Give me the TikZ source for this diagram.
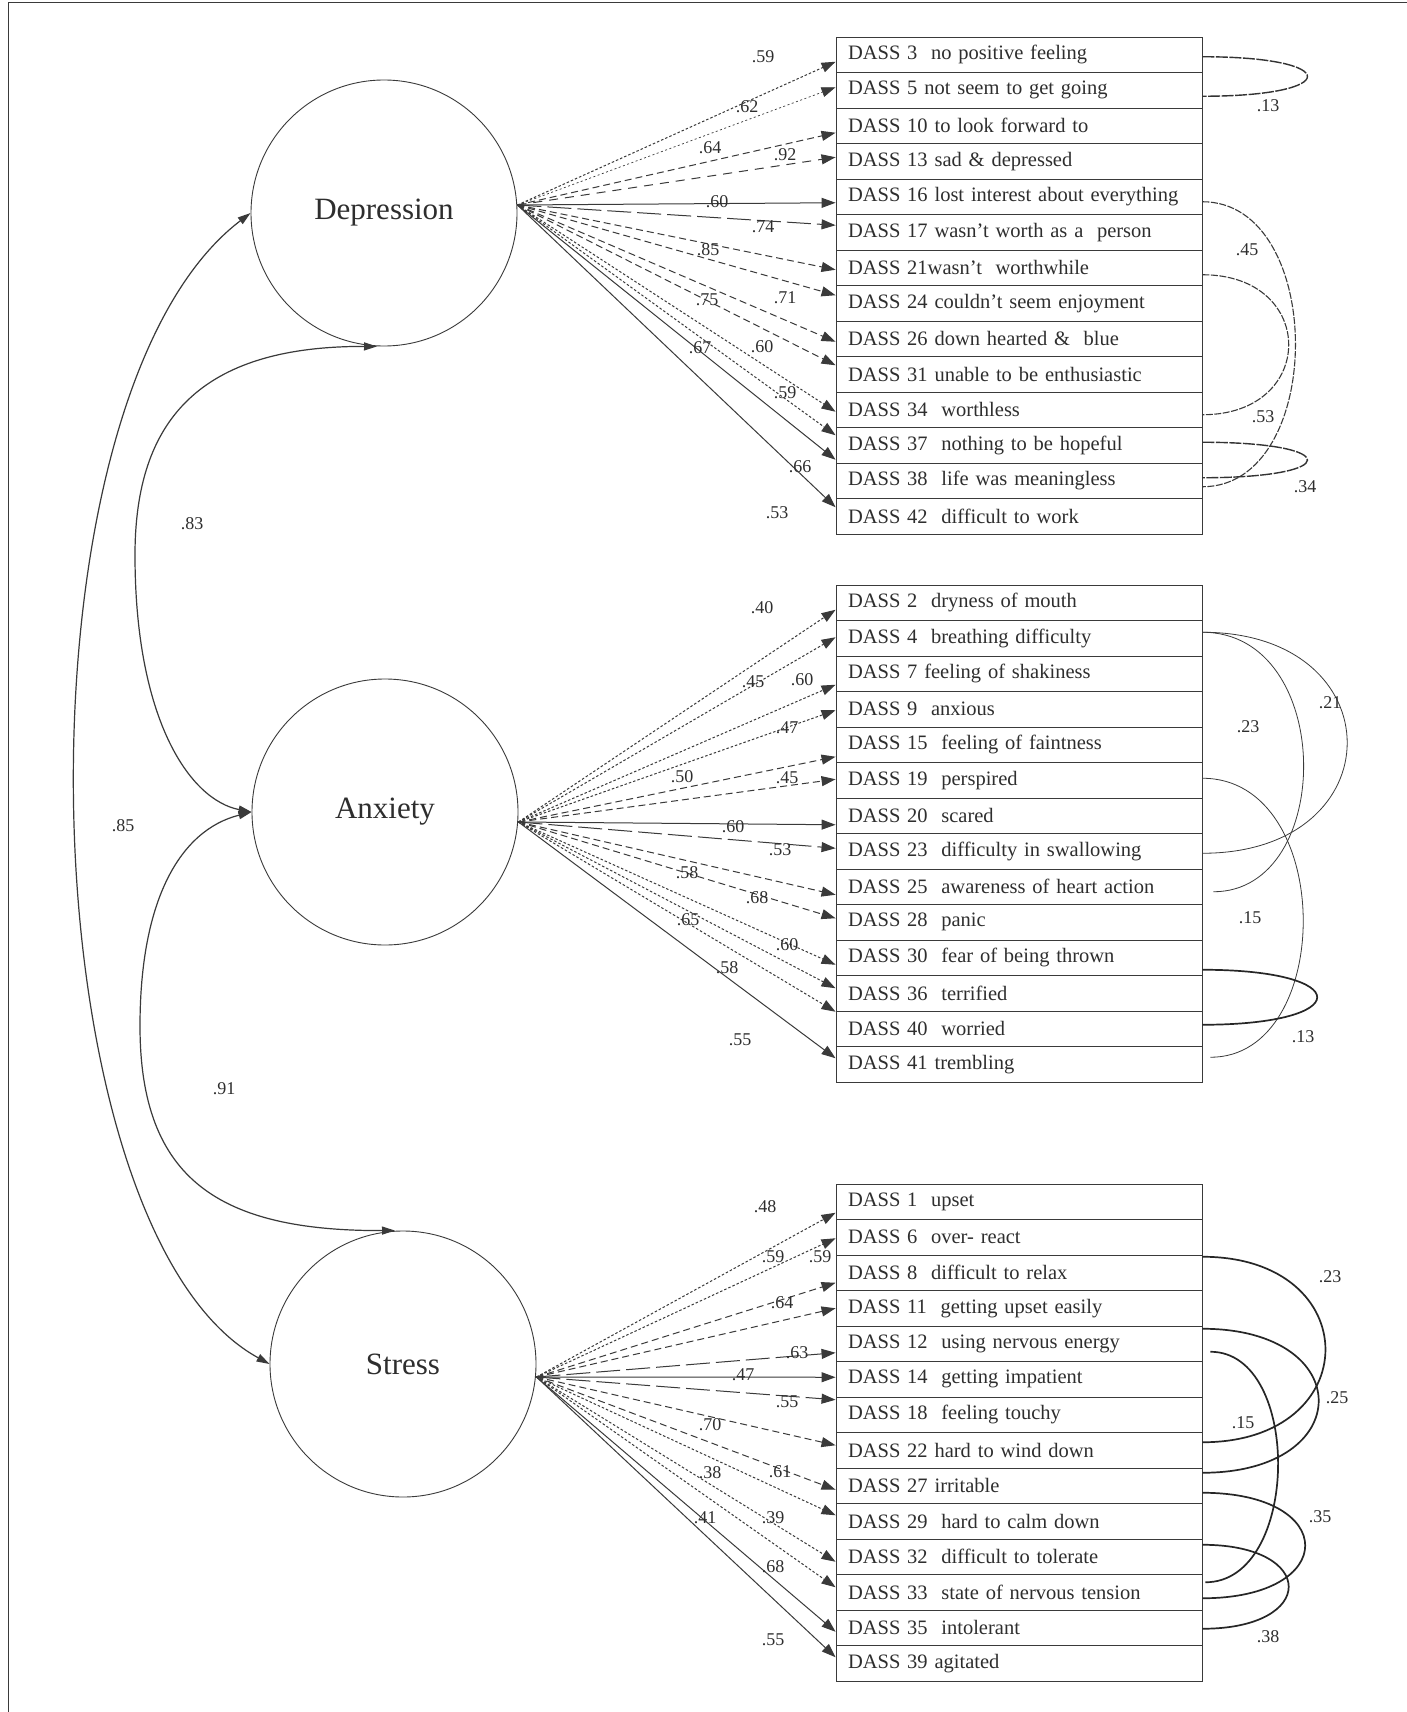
\documentclass[tikz,border=0pt]{standalone}
\usepackage{fontspec}
\setmainfont{Liberation Serif}
\usetikzlibrary{arrows.meta}
\definecolor{ln}{HTML}{3A3A3A}
\definecolor{tx}{HTML}{2E2E2E}
\begin{document}
\begin{tikzpicture}[x=1pt,y=-1pt,
  latent/.style={circle,draw=ln,line width=0.9pt,minimum size=266pt,inner sep=0pt,font=\fontsize{31}{34}\selectfont,text=tx},
  item/.style={draw=ln,line width=0.9pt,minimum height=35.5pt,text width=342pt,inner xsep=12pt,inner ysep=0pt,align=left,font=\fontsize{20.5}{22}\selectfont,text=tx},
  arr/.style={-{Triangle[length=14pt,width=10pt]},draw=ln,line width=1pt},
  dotA/.style={dash pattern=on 2.5pt off 2pt},
  dotB/.style={dash pattern=on 2pt off 2.5pt,line width=0.7pt},
  dashA/.style={dash pattern=on 7pt off 4pt},
  dashB/.style={dash pattern=on 9pt off 7pt},
  longA/.style={dash pattern=on 24pt off 6pt},
  solidA/.style={solid},
  corrL/.style={{Triangle[length=13pt,width=8pt]}-{Triangle[length=13pt,width=8pt]},draw=ln,line width=1.2pt},
  corrD/.style={draw=ln,line width=1.1pt,dash pattern=on 7pt off 1.5pt},
  corrP/.style={draw=black!80,line width=1.4pt,dash pattern=on 12pt off 1.5pt},
  corrA/.style={draw=ln,line width=0.8pt},
  corrS/.style={draw=black!85,line width=1.7pt},
  lab/.style={font=\fontsize{18}{20}\selectfont,text=tx,inner sep=0pt}]
\useasboundingbox (0,0) rectangle (1407,1712);
\fill[white] (0,0) rectangle (1407,1712);
\draw[ln,line width=1pt] (8,1712) -- (8,3) -- (1407,3);

% latent factors
\node[latent] (dep) at (384,213) {Depression};
\node[latent] (anx) at (385,812) {Anxiety};
\node[latent] (str) at (403,1364) {Stress};
\coordinate (dsrc) at ([yshift=8pt]dep.east);
\coordinate (asrc) at ([yshift=-10pt]anx.east);
\coordinate (ssrc) at ([yshift=-13pt]str.east);

% item boxes
\foreach \t [count=\i] in {DASS 3 \ no positive feeling, DASS 5 not seem to get going, DASS 10 to look forward to, DASS 13 sad \& depressed, DASS 16 lost interest about everything, DASS 17 wasn’t worth as a \ person, DASS 21wasn’t \ worthwhile, DASS 24 couldn’t seem enjoyment, DASS 26 down hearted \& \ blue, DASS 31 unable to be enthusiastic, DASS 34 \ worthless, DASS 37 \ nothing to be hopeful, DASS 38 \ life was meaningless, DASS 42 \ difficult to work}
  \node[item] (d\i) at (1019,{37+35.5*(\i-0.5)}) {\t};
\foreach \t [count=\i] in {DASS 2 \ dryness of mouth, DASS 4 \ breathing difficulty, DASS 7 feeling of shakiness, DASS 9 \ anxious, DASS 15 \ feeling of faintness, DASS 19 \ perspired, DASS 20 \ scared, DASS 23 \ difficulty in swallowing, DASS 25 \ awareness of heart action, DASS 28 \ panic, DASS 30 \ fear of being thrown, DASS 36 \ terrified, DASS 40 \ worried, DASS 41 trembling}
  \node[item] (a\i) at (1019,{585+35.5*(\i-0.5)}) {\t};
\foreach \t [count=\i] in {DASS 1 \ upset, DASS 6 \ over- react, DASS 8 \ difficult to relax, DASS 11 \ getting upset easily, DASS 12 \ using nervous energy, DASS 14 \ getting impatient, DASS 18 \ feeling touchy, DASS 22 hard to wind down, DASS 27 irritable, DASS 29 \ hard to calm down, DASS 32 \ difficult to tolerate, DASS 33 \ state of nervous tension, DASS 35 \ intolerant, DASS 39 agitated}
  \node[item] (s\i) at (1019,{1184+35.5*(\i-0.5)}) {\t};

% loadings
\foreach \r/\ys/\s in {1/-7/dotA,2/3/dotB,3/-7/dashA,4/4/dashB,5/-6/solidA,6/7/longA,7/-2/dashA,8/8/dashA,9/-3/dashA,10/9/dashA,11/-2/dotA,12/10/dotA,13/21/solidA,14/9/solidA}
  \draw[arr,\s] (dsrc) -- ([yshift=\ys pt]d\r.west);
\foreach \r/\ys/\s in {1/-7/dotA,2/1/dotA,3/-11/dotA,4/-1/dotA,5/-12/dashA,6/1/dashA,7/-9/solidA,8/3/longA,9/-8/dashA,10/4/dashA,11/-7/dotA,12/5/dotA,13/17/dotA,14/6/solidA}
  \draw[arr,\s] (asrc) -- ([yshift=\ys pt]a\r.west);
\foreach \r/\ys/\s in {1/-11/dotA,2/-1/dotA,3/-10/dashA,4/0/dashA,5/-9/longA,6/2/solidA,7/15/longA,8/5/dashA,9/-4/dashA,10/6/dotA,11/-5/dotA,12/5/dotA,13/-4/solidA,14/6/solidA}
  \draw[arr,\s] (ssrc) -- ([yshift=\ys pt]s\r.west);

% factor correlations
\draw[corrL] (dep.west) .. controls (5,400) and (25,1230) .. (str.west);
\draw[corrL] ([xshift=-7pt]dep.south) .. controls (200,346) and (135,420) .. (135,555) .. controls (135,720) and (190,800) .. (anx.west);
\draw[corrL] (anx.west) .. controls (180,830) and (140,900) .. (140,1026) .. controls (140,1180) and (220,1231) .. ([xshift=-8pt]str.north);

% error correlations
\draw[corrP] ([yshift=-2pt]d1.east) .. controls +(140,0) and +(140,0) .. ([yshift=-6pt]d2.east);
\draw[corrD] ([yshift=-5pt]d5.east) .. controls +(124,0) and +(124,0) .. ([yshift=-6pt]d13.east);
\draw[corrD] ([yshift=-7pt]d7.east) .. controls +(115,0) and +(115,0) .. ([yshift=-5pt]d11.east);
\draw[corrP] ([yshift=3pt]d12.east) .. controls +(140,0) and +(140,0) .. ([yshift=3pt]d13.east);
\draw[corrA] ([yshift=6pt]a2.east) .. controls +(193,0) and +(193,0) .. ([yshift=-2pt]a8.east);
\draw[corrA] ([yshift=6pt]a2.east) .. controls +(133,0) and +(122,0) .. ([xshift=11pt,yshift=-5pt]a9.east);
\draw[corrA] ([yshift=2pt]a6.east) .. controls +(133,0) and +(125,0) .. ([xshift=8pt,yshift=7pt]a14.east);
\draw[corrS] ([yshift=-12pt]a11.east) .. controls +(153,0) and +(153,0) .. ([yshift=4pt]a13.east);
\draw[corrS] ([yshift=16pt]s3.east) .. controls +(164,0) and +(164,0) .. ([yshift=8pt]s8.east);
\draw[corrS] ([yshift=15pt]s5.east) .. controls +(155,0) and +(155,0) .. ([yshift=13pt]s9.east);
\draw[corrS] ([xshift=8pt,yshift=-8pt]s5.east) .. controls +(92,0) and +(95,0) .. ([xshift=3pt,yshift=10pt]s12.east);
\draw[corrS] ([yshift=-7pt]s9.east) .. controls +(137,0) and +(137,0) .. ([yshift=-6pt]s12.east);
\draw[corrS] ([yshift=12pt]s11.east) .. controls +(115,0) and +(115,0) .. ([yshift=-1pt]s13.east);

% labels
\foreach \x/\y/\t [count=\i] in {763/57/.59,747/107/.62,710/148/.64,785/155/.92,717/202/.60,763/227/.74,708/250/.85,707/300/.75,785/298/.71,700/348/.67,762/347/.60,785/393/.59,800/467/.66,777/513/.53,
  762/608/.40,753/682/.45,802/680/.60,787/728/.47,682/777/.50,787/778/.45,733/827/.60,780/850/.53,687/873/.58,757/898/.68,688/920/.65,787/945/.60,727/968/.58,740/1040/.55,
  765/1207/.48,773/1257/.59,820/1257/.59,782/1303/.64,797/1353/.63,743/1375/.47,787/1402/.55,710/1425/.70,780/1472/.61,710/1473/.38,773/1518/.39,705/1518/.41,773/1567/.68,773/1640/.55,
  192/524/.83,123/826/.85,224/1089/.91,1268/106/.13,1247/250/.45,1263/417/.53,1305/487/.34,1330/703/.21,1248/727/.23,1250/918/.15,1303/1037/.13,1330/1277/.23,1337/1398/.25,1243/1423/.15,1320/1517/.35,1268/1637/.38}
  \node[lab] (lb\i) at (\x,\y) {\t};
\end{tikzpicture}
\end{document}
